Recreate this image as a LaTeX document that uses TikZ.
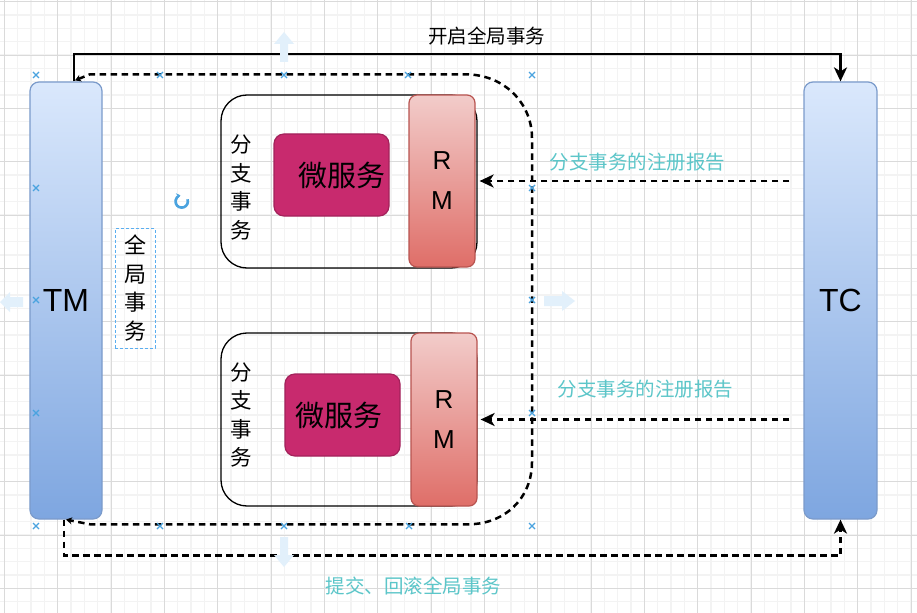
\documentclass[tikz,border=0pt]{standalone}
\usepackage{fontspec}
\usetikzlibrary{arrows.meta,calc}
\newfontfamily\cjk{Noto Sans CJK SC}
\newfontfamily\lat{Liberation Sans}
\definecolor{gridlight}{HTML}{F3F3F3}
\definecolor{griddark}{HTML}{DADADA}
\definecolor{bartop}{HTML}{DAE8FC}
\definecolor{barbot}{HTML}{7EA6E0}
\definecolor{barline}{HTML}{7B9BCB}
\definecolor{rmtop}{HTML}{F2CCCA}
\definecolor{rmbot}{HTML}{DF6E68}
\definecolor{rmline}{HTML}{B85450}
\definecolor{msfill}{HTML}{C82A6E}
\definecolor{msline}{HTML}{A3225B}
\definecolor{noteteal}{HTML}{5CC6C9}
\definecolor{handleblue}{HTML}{4AA3DF}
\definecolor{ghostblue}{HTML}{E2F0FB}
\definecolor{boxblue}{HTML}{5AAEF0}
\begin{document}
\begin{tikzpicture}[x=1bp,y=-1bp,
  gridminor/.style={draw=gridlight, line width=1.5bp},
  gridmajor/.style={draw=griddark, line width=0.8bp},
  party/.style={draw=barline, line width=1.2bp, rounded corners=9bp,
    top color=bartop, bottom color=barbot, minimum width=72bp,
    minimum height=437bp, inner sep=0pt, font=\lat\fontsize{32bp}{32bp}\selectfont},
  branch/.style={draw=black, line width=1.3bp, rounded corners=26bp,
    minimum width=256bp, minimum height=173bp, inner sep=0pt},
  rmbox/.style={draw=rmline, line width=1.2bp, rounded corners=8bp,
    top color=rmtop, bottom color=rmbot, minimum width=66bp,
    minimum height=172bp, inner sep=0pt, align=center,
    font=\lat\fontsize{26bp}{40bp}\selectfont},
  msbox/.style={draw=msline, fill=msfill, line width=1.2bp, rounded corners=10bp,
    minimum width=115bp, minimum height=82bp, inner sep=0pt},
  mstext/.style={font=\cjk\fontsize{29bp}{30bp}\selectfont, inner sep=0pt},
  vtext/.style={font=\cjk\fontsize{21.5bp}{28.5bp}\selectfont, align=center, inner sep=0pt},
  caption/.style={font=\cjk\fontsize{19.5bp}{22bp}\selectfont, inner sep=0pt},
  note/.style={caption, text=noteteal},
  flow/.style={line width=2.5bp, -{Stealth[length=14bp,width=13bp,inset=4bp]}},
  dashflow/.style={flow, dash pattern=on 6.5bp off 4.5bp},
  loopline/.style={line width=2.5bp, dash pattern=on 6.5bp off 4.5bp,
    {Stealth[length=6bp,width=7bp]}-{Stealth[length=6bp,width=7bp]}},
  handle/.style={draw=handleblue, line width=1.1bp},
  ghost/.style={fill=ghostblue, draw=none}]

% canvas and background grid
\fill[white] (0,0) rectangle (917,613);
\useasboundingbox (0,0) rectangle (917,613);
\foreach \i in {0,...,68} {\draw[gridminor] ({4.3+13.333*\i},0) -- ({4.3+13.333*\i},613);}
\foreach \i in {0,...,45} {\draw[gridminor] (0,{1.7+13.333*\i}) -- (917,{1.7+13.333*\i});}
\foreach \i in {0,...,17} {\draw[gridmajor] ({4.3+53.333*\i},0) -- ({4.3+53.333*\i},613);}
\foreach \i in {0,...,11} {\draw[gridmajor] (0,{1.7+53.333*\i}) -- (917,{1.7+53.333*\i});}

% transaction manager and coordinator
\node[party] (TM) at (66,300.5) {TM};
\node[party, minimum width=73bp] (TC) at (840.5,300.5) {TC};

% global transaction label
\node[draw=boxblue, line width=1bp, dash pattern=on 3bp off 2bp,
      minimum width=40bp, minimum height=119bp, inner sep=0pt] (gbox) at (135,288.5) {};
\node[vtext, font=\cjk\fontsize{22bp}{28.7bp}\selectfont] (gtext) at (135,288) {全\\局\\事\\务};

% first branch transaction
\node[branch] (br1) at (349,181.5) {};
\node[vtext] (br1t) at (241.5,187.5) {分\\支\\事\\务};
\node[msbox] (ms1) at (331.5,175) {};
\node[mstext] (ms1t) at ($(ms1)+(10,0)$) {微服务};
\node[rmbox] (rm1) at (442,181) {R\\M};

% second branch transaction
\node[branch] (br2) at (349,419.5) {};
\node[vtext] (br2t) at (241.5,415) {分\\支\\事\\务};
\node[msbox] (ms2) at (342.5,415) {};
\node[mstext] (ms2t) at ($(ms2)+(-4,0)$) {微服务};
\node[rmbox, minimum height=173bp] (rm2) at (444,419.5) {R\\M};

% begin global transaction
\draw[flow] ($(TM.north)+(8,0)$) -- ++(0,-27.5) -| (TC.north);
\node[caption] (lbegin) at (486.5,36.5) {开启全局事务};

% scope of the global transaction
\coordinate (loopa) at ($(TM.north)+(9,-1)$);
\coordinate (loopb) at ($(TM.south)+(0,0)$);
\draw[loopline] (loopa) -- (90,74.3) -- (465,74.3)
  .. controls (505,74.3) and (532,104) .. (532,138) -- (532,462)
  .. controls (532,498) and (505,524.3) .. (468,524.3) -- (90,524.3) -- (loopb);

% branch registration reports
\coordinate (tcin) at ($(TC.west)+(-14,0)$);
\draw[dashflow] (tcin |- rm1.east) -- ($(rm1.east)+(4,0)$);
\draw[dashflow] (tcin |- rm2.east) -- ($(rm2.east)+(3,0)$);
\node[note] (lreg1) at (637.5,162.5) {分支事务的注册报告};
\node[note] (lreg2) at (645.5,389) {分支事务的注册报告};

% commit or roll back
\draw[dashflow] ($(TM.south)+(-2,0)$) -- ++(0,36) -| (TC.south);
\node[note] (lend) at (413.5,586) {提交、回滚全局事务};

% selection handles
\foreach \hx/\hy in {36/75,160/75,284/75,408/75,532/75,36/188,36/300,36/413,
                     36/526,160/526,284/526,409/526,532/526,532/188,532/300,532/413}
  {\draw[handle] (\hx-3,\hy-3) -- (\hx+3,\hy+3) (\hx-3,\hy+3) -- (\hx+3,\hy-3);}

% faint direction arrows
\fill[ghost] (284,32) -- (294,44) -- (288,44) -- (288,62) -- (280,62) -- (280,44) -- (274,44) -- cycle;
\fill[ghost] (284,567) -- (294,555) -- (288,555) -- (288,537) -- (280,537) -- (280,555) -- (274,555) -- cycle;
\fill[ghost] (0,302) -- (10,292) -- (10,297) -- (23,297) -- (23,307) -- (10,307) -- (10,312) -- cycle;
\fill[ghost] (575,301) -- (562,291) -- (562,296) -- (544,296) -- (544,306) -- (562,306) -- (562,311) -- cycle;

% rotation handle
\draw[handleblue, line width=2.6bp, -{Stealth[length=4bp,width=6bp]}]
  (187.5,199.3) arc[start angle=-20, end angle=258, radius=6.2];
\end{tikzpicture}
\end{document}
